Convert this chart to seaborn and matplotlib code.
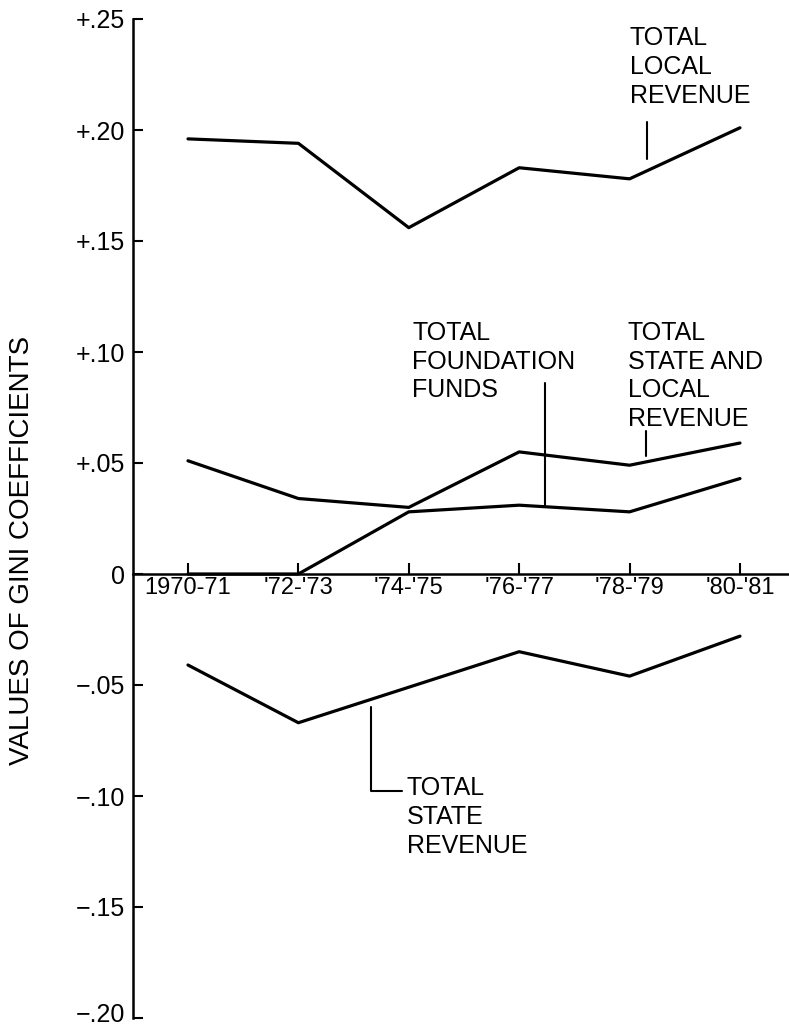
import seaborn as sns
import matplotlib.pyplot as plt
import matplotlib.transforms as mtransforms
import pandas as pd
import numpy as np

sns.set_theme(style='white')
plt.rcParams['font.family'] = ['Liberation Sans', 'DejaVu Sans']

# Gini coefficients by school year
periods = ["1970-71", "'72-'73", "'74-'75", "'76-'77", "'78-'79", "'80-'81"]
local_rev = [0.196, 0.194, 0.156, 0.183, 0.178, 0.201]
state_local_rev = [0.051, 0.034, 0.030, 0.055, 0.049, 0.059]
foundation = [0.0, 0.0, 0.028, 0.031, 0.028, 0.043]
state_rev = [-0.041, -0.067, -0.051, -0.035, -0.046, -0.028]

yticks = [0.25, 0.20, 0.15, 0.10, 0.05, 0.0, -0.05, -0.10, -0.15, -0.20]
ytick_labels = ["+.25", "+.20", "+.15", "+.10", "+.05", "0",
                "\u2212.05", "\u2212.10", "\u2212.15", "\u2212.20"]

series = {
    "local": local_rev,
    "state_local": state_local_rev,
    "foundation": foundation,
    "state": state_rev,
}

fig = plt.figure(figsize=(7.89, 10.30), dpi=100)
ax = fig.add_axes([133 / 789, 12 / 1030, 656 / 789, 999 / 1030])

for name, vals in series.items():
    df = pd.DataFrame({"period": periods, "gini": vals})
    sns.lineplot(data=df, x="period", y="gini", color="black", lw=2.3,
                 sort=False, ax=ax)

ax.set_xlim(-0.498, 5.444)
ax.set_ylim(-0.20, 0.25)

# axes styling: left spine + zero line
for s in ["top", "right"]:
    ax.spines[s].set_visible(False)
ax.spines["bottom"].set_position(("data", 0))
for s in ["left", "bottom"]:
    ax.spines[s].set_color("black")
    ax.spines[s].set_linewidth(1.8)

ax.set_yticks(yticks)
ax.set_yticklabels(ytick_labels)
ax.set_xticks(range(len(periods)))
ax.set_xticklabels(periods)
ax.tick_params(axis="y", direction="in", length=7, width=1.5, pad=6,
               labelsize=18, colors="black", left=True)
ax.tick_params(axis="x", direction="in", length=8, width=1.5, pad=2,
               labelsize=17, colors="black", bottom=True)
ax.set_xlabel("")
ax.set_ylabel("")

# nudge the lowest tick label up so it stays inside the figure
low = ax.get_yticklabels()[-1]
low.set_transform(low.get_transform() +
                  mtransforms.ScaledTranslation(0, 6 / 100, fig.dpi_scale_trans))

fig.text(22 / 789, 1 - 550 / 1030, "VALUES OF GINI COEFFICIENTS",
         rotation=90, ha="center", va="center", fontsize=20, color="black")

# labels and leader lines
txt = dict(fontsize=18, color="black", ha="left", va="top", linespacing=1.25)
ax.text(4.0, 0.2468, "TOTAL\nLOCAL\nREVENUE", **txt)
ax.plot([4.16, 4.16], [0.2036, 0.187], color="black", lw=1.5)

ax.text(2.03, 0.114, "TOTAL\nFOUNDATION\nFUNDS", **txt)
ax.plot([3.23, 3.23], [0.086, 0.030], color="black", lw=1.5)

ax.text(3.985, 0.114, "TOTAL\nSTATE AND\nLOCAL\nREVENUE", **txt)
ax.plot([4.15, 4.15], [0.0644, 0.053], color="black", lw=1.5)

ax.text(1.98, -0.091, "TOTAL\nSTATE\nREVENUE", **txt)
ax.plot([1.66, 1.66, 1.94], [-0.060, -0.0977, -0.0977], color="black", lw=1.5)

fig.savefig("out.png", dpi=100)
